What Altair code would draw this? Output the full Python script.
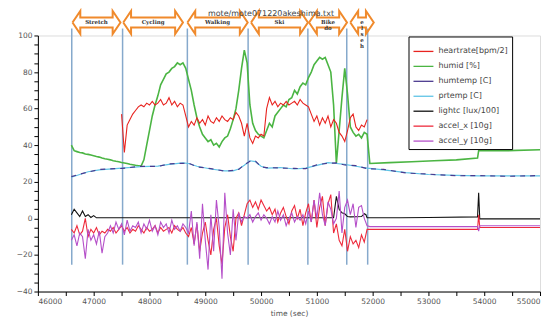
import altair as alt
import pandas as pd

# ---------------- data ----------------
SERIES = ["heartrate[bpm/2]", "humid [%]", "humtemp [C]", "prtemp [C]",
          "lightc [lux/100]", "accel_x [10g]", "accel_y [10g]"]
COLORS = ["#e8231f", "#4bb543", "#4b3a8f", "#5fc4e6", "#111111", "#ee2a3c", "#b54fc9"]

T = list(range(46600, 51901, 50))  # sampling grid of the active period (107 samples)

humid = [40, 37, 36.5, 36, 35.8, 35.2, 35, 34.6, 34.2, 33.8, 33.5, 33, 32.6, 32.3, 32, 31.5, 31.2, 31, 30.6,
         30.3, 30, 29.6, 29.3, 29, 28.8, 28.6,
         32, 40, 48, 56, 62, 67, 73, 76, 79, 80, 82, 83, 85, 84, 85, 82,
         76, 70, 62, 55, 50, 46, 44, 42, 43, 40, 41, 39, 42, 44, 45, 49, 54, 60, 70, 82, 92,
         85, 62, 52, 48, 46, 45, 44, 48, 52, 50, 56, 58, 60, 62, 61, 65, 66, 70, 68, 72, 74, 73,
         77, 80, 84, 86, 88, 87, 88, 84, 80, 62, 30, 48, 66, 82, 68, 50, 47, 45, 46, 44, 47, 46]
humid_post_t = [51950, 52300, 52700, 53100, 53500, 53880, 53900, 54400, 55000]
humid_post = [30, 30.5, 31, 31.5, 32, 33, 37, 37, 37.5]

heart_start = 18
heartrate = [57, 36, 51, 54, 57, 59, 61, 62, 61, 63, 62, 64, 62, 63, 65, 62, 63, 66, 62, 64, 61, 63, 62, 56,
             50, 53, 51, 55, 52, 54, 51, 56, 53, 52, 55, 53, 56, 54, 53, 55, 54, 58, 56, 52, 45,
             52, 44, 41, 45, 44, 46, 45, 60, 66, 62, 64, 61, 63, 62, 64, 62, 63, 64, 62, 65, 63, 62,
             61, 57, 53, 56, 51, 55, 52, 56, 50, 54, 52, 47, 45, 42, 48, 55, 57, 50, 48, 51, 50, 54]

pr_t = [46600, 46750, 46900, 47100, 47500, 47850, 48150, 48350, 48600, 48700, 48850, 49100, 49350,
        49500, 49600, 49700, 49800, 49900, 50000, 50100, 50350, 50600, 50800, 51000, 51200, 51350,
        51500, 51700, 51900, 52200, 52600, 53000, 53500, 53900, 54400, 55000]
prtemp = [22.5, 24, 25.5, 26.5, 27.5, 28.3, 28.6, 29.5, 30.3, 30, 28.5, 27, 26, 26, 27, 29, 31.5,
          31, 28.5, 27.5, 27.8, 27, 27.5, 29, 30.5, 30, 29.5, 28.5, 27.5, 26.5, 25, 24, 23.5, 23.2,
          23.2, 23.2]
humtemp = [22.8, 24.2, 25.3, 26.8, 27.3, 28.5, 28.4, 29.8, 30.1, 30.2, 28.2, 27.2, 25.8, 26.2, 26.8,
           29.3, 31.2, 31.3, 28.2, 27.8, 27.5, 27.3, 27.2, 29.3, 30.2, 30.3, 29.2, 28.8, 27.2, 26.8,
           24.8, 24.2, 23.3, 23.4, 23.0, 23.4]

light_t = [46600, 46650, 46700, 46750, 46800, 46850, 46900, 46950, 47000, 47050, 47100, 51300,
           51350, 51400, 51450, 51500, 51550, 51600, 51800, 51850, 51880, 51900, 52500, 53000,
           53880, 53900, 53920, 55000]
lightc = [2, 5, 3, 1, 4, 1, 2, 0.5, 1.5, 0.3, 0.3, 0.3, 12, 5, 3, 2.5, 1, 0.8, 1, 2.5, 2, 0.3, 0.3,
          0.5, 0.8, 14, -0.3, -0.3]

accel_x = [-6, -8, -4, -9, -7, 0, -10, -6, -8, -5, -9, -7, -8, -6,
           -7, -5, -8, -6, -4, -7, -5, -8, -6, -7, -4, -6, -8, -5, -7, -6, -4, -8, -5, -7, -6, -5, -8, -4, -6, -7, -5, -8,
           -10, -5, -14, -3, -18, -8, -2, -12, -20, -6, 0, -15, -25, -5, 2, -10, -18, 0, 3, -4, 2,
           8, 10, 6, 9, 5, 10, 7, 4, 6, 2, 5, -2, 3, 6, 1, -3, 4, 7, 0, 5, -4, 3,
           8, -2, 10, -5, 6, 12, -4, 8, 13, -8, -3, -12, -15, -6, -18, -10, -14, -12, -16, -9, -13, -6]
accel_y = [-12, -9, -15, -8, -10, -22, -6, -12, -9, -14, -7, -19, -10, -8,
           -4, -8, -2, -6, -3, -9, -1, -7, -4, -5, -2, -8, -3, -6, -1, -7, -4, -9, -2, -5, -3, -8, -1, -6, -4, -7, -3, -5,
           -8, 4, -15, -2, -22, 8, -12, -28, 2, -18, 10, -5, -33, 14, -8, -20, 5, -12, 3, -2, 1,
           0, 2, -2, 1, 3, -1, 2, 0, -3, 1, -2, 4, -1, 2, -4, 0, 3, -2, 1, -1, 2, -3,
           4, -2, 10, 0, 14, 2, -4, 9, 5, -3, 0, 15, -8, 6, 10, 2, 8, -5, 6, 7, 0, -4]
accel_post_t = [51950, 53880, 53900, 53920, 55000]
accel_x_post = [-6, -6, 2, -5, -5]
accel_y_post = [-4.5, -4.5, -7, -4, -4]

# activity segments
boundaries = [46607, 47518, 48679, 49768, 50839, 51536, 51911]
act_start = [46620, 47530, 48680, 49820, 50860, 51600]
act_end = [47480, 48600, 49760, 50840, 51540, 52020]
act_label = ["Stretch", "Cycling", "Walking", "Ski", ["Bike", "do"], ["e", "l", "s", "e", "h"]]

TITLE = "mote/mote071220akeshima.txt"

# ---------------- build tables ----------------
rows = []
def add(name, ts, vs):
    for t, v in zip(ts, vs):
        if v is not None:
            rows.append({"series": name, "t": t, "v": v})

add(SERIES[0], T[heart_start:], heartrate)
add(SERIES[1], T + humid_post_t, humid + humid_post)
add(SERIES[2], pr_t, humtemp)
add(SERIES[3], pr_t, prtemp)
add(SERIES[4], light_t, lightc)
add(SERIES[5], T + accel_post_t, accel_x + accel_x_post)
add(SERIES[6], T + accel_post_t, accel_y + accel_y_post)
df = pd.DataFrame(rows)

# arrow outlines built from the segment bounds
YC, HH, BH, HL = 107.1, 6.3, 2.7, 140
arr = []
for k, (a, b) in enumerate(zip(act_start, act_end)):
    hl = min(HL, (b - a) / 2)
    pts = [(a, YC), (a + hl, YC + HH), (a + hl, YC + BH), (b - hl, YC + BH), (b - hl, YC + HH),
           (b, YC), (b - hl, YC - HH), (b - hl, YC - BH), (a + hl, YC - BH), (a + hl, YC - HH), (a, YC)]
    for j, (x, y) in enumerate(pts):
        arr.append({"seg": k, "o": j, "x": x, "y": y})
arrows = pd.DataFrame(arr)
labels = pd.DataFrame({"x": [(a + b) / 2 for a, b in zip(act_start, act_end)],
                       "y": [YC] * len(act_start), "label": act_label})
vlines = pd.DataFrame({"t": boundaries, "top": [103.8] * len(boundaries), "bot": [-25.3] * len(boundaries)})

FONT = "DejaVu Sans"

xscale = alt.Scale(domain=[46000, 55000], nice=False, zero=False)
yscale = alt.Scale(domain=[-40, 100], nice=False, zero=False)
xaxis = alt.Axis(values=list(range(46000, 55001, 500)), format="d",
                 labelExpr="datum.value % 1000 == 0 ? datum.label : ''", labelOverlap=False,
                 title="time (sec)", grid=False, tickColor="black", domainColor="black",
                 labelFontSize=7.5, titleFontSize=7.5, labelColor="#555", titleColor="#555",
                 labelFont=FONT, titleFont=FONT, titleFontWeight="normal", tickSize=4, titlePadding=5)
yaxis = alt.Axis(values=list(range(-40, 101, 5)), format="d",
                 labelExpr="datum.value % 20 == 0 ? datum.label : ''", labelOverlap=False,
                 labelFontSize=7.5,
                 title=None, grid=False, tickColor="black", domainColor="black",
                 labelColor="#555", labelFont=FONT, tickSize=4)

def X(field):
    return alt.X(field, scale=xscale, axis=xaxis)

def Y(field):
    return alt.Y(field, scale=yscale, axis=yaxis)

color = alt.Color("series:N", scale=alt.Scale(domain=SERIES, range=COLORS),
                  legend=alt.Legend(orient="none", legendX=372, legendY=1, title=None,
                                    symbolType="stroke", symbolSize=400, symbolStrokeWidth=1.3,
                                    labelFontSize=8, labelFont=FONT, labelColor="#444",
                                    rowPadding=-1, padding=4, strokeColor="black",
                                    fillColor="white", labelLimit=200))

base = alt.Chart(df)

def series_layer(name, width=1.0, dash=None):
    kw = {"strokeWidth": width}
    if dash:
        kw["strokeDash"] = dash
    return base.transform_filter(alt.datum.series == name).mark_line(**kw).encode(
        x=X("t:Q"), y=Y("v:Q"), color=color, order="t:Q",
    )

rules = alt.Chart(vlines).mark_rule(color="#86a9cc", strokeWidth=1.5).encode(
    x=X("t:Q"), y=Y("top:Q"), y2="bot:Q")

arrow_lines = alt.Chart(arrows).mark_line(color="#f08a2c", strokeWidth=2, strokeJoin="miter").encode(
    x=X("x:Q"), y=Y("y:Q"), detail="seg:N", order="o:Q")

arrow_text = alt.Chart(labels).mark_text(fontSize=5.5, font="DejaVu Serif", fontWeight="bold",
                                         color="#333", baseline="middle", lineHeight=6).encode(
    x=X("x:Q"), y=Y("y:Q"), text="label")

title = alt.Chart(pd.DataFrame({"s": [TITLE]})).mark_text(
    fontSize=8, font=FONT, color="#444", align="center", baseline="middle").encode(
    x=alt.value(234), y=alt.value(-22), text="s:N")

chart = alt.layer(
    rules,
    series_layer(SERIES[1], 1.6),
    series_layer(SERIES[0], 1.1),
    series_layer(SERIES[3], 1.2),
    series_layer(SERIES[2], 1.2, [5, 5]),
    series_layer(SERIES[4], 1.1),
    series_layer(SERIES[5], 1.1),
    series_layer(SERIES[6], 1.1),
    arrow_lines,
    arrow_text,
    title,
).properties(
    width=504, height=257,
    autosize=alt.AutoSizeParams(type="none"),
    padding={"left": 30, "top": 27, "right": 6, "bottom": 30},
).configure_view(stroke="black", strokeWidth=1.2).configure_axis(
    labelOverlap=False
).configure(background="white")

chart.save("out.html", embed_options={"renderer": "svg", "actions": False})
